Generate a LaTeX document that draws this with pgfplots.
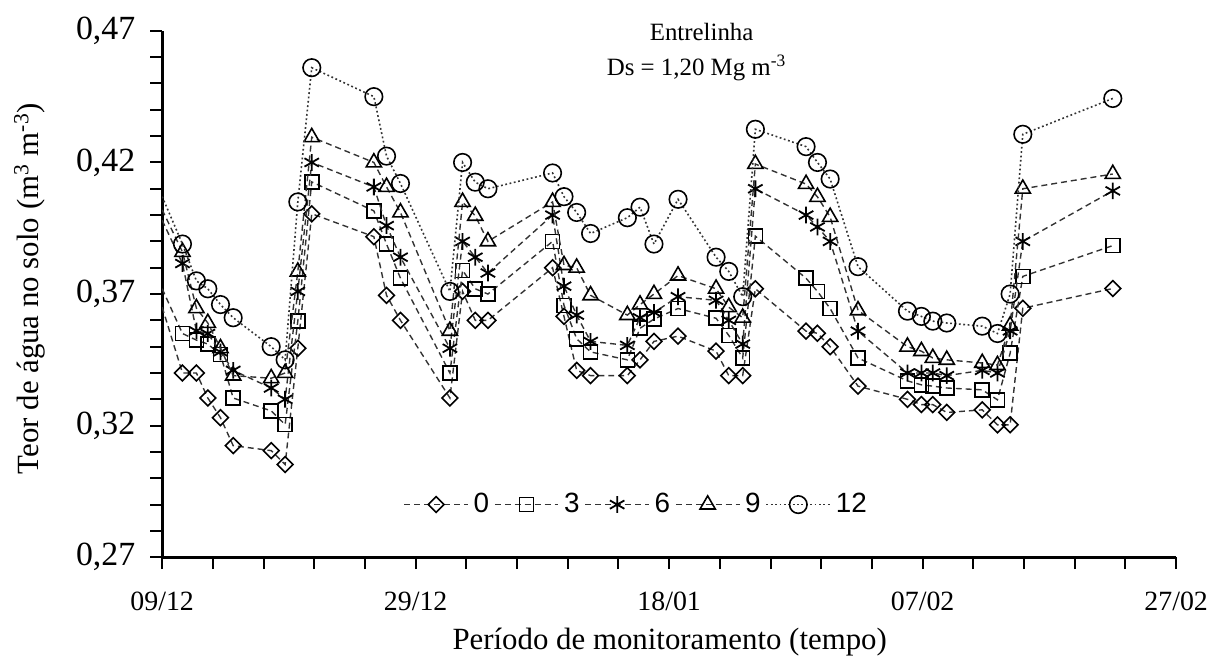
\documentclass[border=0pt]{standalone}
\usepackage{fontspec}
\setmainfont{Liberation Serif}
\newfontfamily\legfont{Liberation Sans}
\usepackage{pgfplots}
\pgfplotsset{compat=1.18}
\usepackage{pgfplotstable}

\pgfplotstableread{
d     s0      s3      s6      s9      s12
0     0.365   0.372   0.398   0.402   0.407
1.6   0.340   0.355   0.3816  0.386   0.389
2.7   0.340   0.3525  0.356   0.3646  0.375
3.6   0.3305  0.351   0.355   0.359   0.372
4.6   0.323   0.347   0.348   0.3494  0.366
5.6   0.3124  0.3305  0.341   0.339   0.361
8.6   0.3105  0.3256  0.3343  0.338   0.350
9.7   0.3052  0.3204  0.330   0.340   0.345
10.7  0.3494  0.3597  0.371   0.3785  0.405
11.8  0.4005  0.4126  0.420   0.4296  0.456
16.7  0.3918  0.4016  0.4107  0.420   0.445
17.7  0.3695  0.389   0.396   0.4107  0.4224
18.8  0.360   0.376   0.384   0.401   0.412
22.7  0.3305  0.340   0.3494  0.356   0.371
23.7  0.371   0.379   0.390   0.405   0.420
24.7  0.360   0.372   0.384   0.3997  0.4125
25.7  0.360   0.370   0.378   0.390   0.410
30.8  0.380   0.390   0.400   0.405   0.416
31.7  0.3615  0.3657  0.373   0.381   0.407
32.7  0.341   0.353   0.362   0.380   0.401
33.8  0.339   0.348   0.352   0.3695  0.393
36.7  0.339   0.345   0.3505  0.362   0.399
37.7  0.345   0.357   0.361   0.366   0.403
38.8  0.352   0.3605  0.363   0.370   0.389
40.7  0.354   0.3645  0.369   0.377   0.406
43.7  0.3483  0.3608  0.3676  0.372   0.384
44.7  0.339   0.3543  0.360   0.365   0.3786
45.8  0.339   0.3457  0.351   0.361   0.369
46.8  0.372   0.392   0.410   0.4194  0.4326
50.8  0.3559  0.376   0.400   0.4118  0.426
51.7  0.3551  0.371   0.3955  0.4069  0.420
52.7  0.350   0.3645  0.390   0.3993  0.4137
54.9  0.335   0.3457  0.3559  0.3638  0.3804
58.8  0.330   0.337   0.340   0.350   0.3635
59.9  0.328   0.3355  0.340   0.3483  0.3615
60.8  0.328   0.335   0.340   0.3457  0.3597
61.9  0.325   0.3343  0.339   0.345   0.359
64.7  0.326   0.3336  0.341   0.3438  0.3578
65.9  0.3203  0.3298  0.340   0.343   0.355
66.9  0.3203  0.3475  0.356   0.358   0.370
67.9  0.3646  0.3767  0.390   0.410   0.4307
75.0  0.3721  0.3884  0.4092  0.4156  0.4443
}\data

\begin{document}
\begin{tikzpicture}
\useasboundingbox (-81.5pt,-52pt) rectangle (526pt,280pt);
\begin{axis}[
  scale only axis, width=509.5pt, height=264.5pt,
  xmin=0, xmax=80, ymin=0.27, ymax=0.47,
  clip mode=individual,
  axis x line*=bottom, axis y line*=left,
  axis line style={-, line width=1.6pt, black},
  xtick={0,20,40,60,80},
  xticklabels={09/12,29/12,18/01,07/02,27/02},
  minor x tick num=4,
  ytick={0.27,0.32,0.37,0.42,0.47},
  minor y tick num=4,
  scaled y ticks=false,
  tick align=outside,
  major tick length=6pt, minor tick length=6pt,
  every tick/.style={line width=1pt, black},
  /pgf/number format/fixed,
  /pgf/number format/fixed zerofill,
  /pgf/number format/precision=2,
  /pgf/number format/use comma,
  /pgf/number format/assume math mode=true,
  x tick label style={font=\fontsize{14}{16}\selectfont, yshift=-8pt},
  y tick label style={font=\fontsize{17}{19}\selectfont, xshift=-4pt},
  xlabel={Período de monitoramento (tempo)},
  ylabel={Teor de água no solo (m\textsuperscript{3} m\textsuperscript{-3})},
  label style={font=\fontsize{15.5}{17}\selectfont},
  xlabel style={at={(axis description cs:0.5005,-0.1607)}, anchor=center},
  ylabel style={at={(axis description cs:-0.1305,0.5104)}, anchor=center},
  legend columns=-1,
  legend style={draw=none, fill=none, at={(axis description cs:0.469,0.100)}, anchor=center,
    font=\legfont\fontsize{14}{16}\selectfont, inner sep=0pt,
    nodes={inner xsep=2.5pt},
    /tikz/every even column/.append style={column sep=0pt}},
  legend image code/.code={\draw[mark repeat=2,mark phase=2] plot coordinates {(0pt,0pt)(16pt,0pt)(32pt,0pt)};},
]
\addplot[black!80, line width=0.7pt, dash pattern=on 3pt off 2pt,
  mark=square, mark size=2.8pt, mark options={solid, rotate=45, line width=0.8pt, black},
  mark phase=2, mark repeat=1] table[x=d,y=s0]{\data};
\addlegendentry{0}
\addplot[black!80, line width=0.7pt, dash pattern=on 3pt off 2pt,
  mark=square, mark size=3.5pt, mark options={solid, line width=0.8pt, black},
  mark phase=2, mark repeat=1] table[x=d,y=s3]{\data};
\addlegendentry{3}
\addplot[black!80, line width=0.7pt, dash pattern=on 3pt off 2pt,
  mark=asterisk, mark size=4.2pt, mark options={solid, line width=0.9pt, black},
  mark phase=2, mark repeat=1] table[x=d,y=s6]{\data};
\addlegendentry{6}
\addplot[black!80, line width=0.7pt, dash pattern=on 3pt off 2pt,
  mark=triangle, mark size=4.4pt, mark options={solid, line width=0.8pt, black},
  mark phase=2, mark repeat=1] table[x=d,y=s9]{\data};
\addlegendentry{9}
\addplot[black!80, line width=0.8pt, dash pattern=on 0.9pt off 1.3pt,
  mark=o, mark size=4.4pt, mark options={solid, line width=0.8pt, black},
  mark phase=2, mark repeat=1] table[x=d,y=s12]{\data};
\addlegendentry{12}
\node[font=\fontsize{12.5}{14}\selectfont] at (axis description cs:0.532,0.998) {Entrelinha};
\node[font=\fontsize{12.5}{14}\selectfont] at (axis description cs:0.527,0.930) {Ds = 1,20 Mg m\textsuperscript{-3}};
\end{axis}
\end{tikzpicture}
\end{document}
